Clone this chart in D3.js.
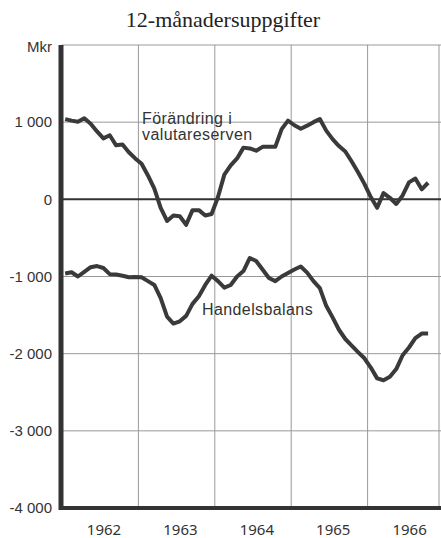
<!DOCTYPE html>
<html>
<head>
<meta charset="utf-8">
<script src="https://cdn.jsdelivr.net/npm/d3@7"></script>
<style>
  body { margin: 0; background: #fff; }
  svg { display: block; }
</style>
</head>
<body>
<svg id="chart"></svg>
<script>
// 12-month figures, monthly from Jan 1962, Mkr
var startYear = 1962;
var years = [1962, 1963, 1964, 1965, 1966];
var yTicks = [1000, 0, -1000, -2000, -3000, -4000];

var valutareserven = [
  1040, 1020, 1005, 1050, 980, 880, 790, 830, 700, 710, 610, 530,
  460, 310, 140, -110, -280, -210, -220, -330, -140, -140, -210, -190,
  30, 320, 440, 530, 670, 660, 630, 680, 680, 680, 910, 1020,
  960, 915, 955, 1000, 1040, 890, 780, 690, 620, 490, 350, 200,
  30, -110, 80, 20, -60, 50, 220, 270, 130, 215
];

var handelsbalans = [
  -960, -945, -1000, -940, -880, -865, -890, -970, -975, -990, -1010, -1005,
  -1010, -1060, -1110, -1280, -1520, -1610, -1580, -1510, -1355, -1255, -1110, -990,
  -1060, -1145, -1110, -1000, -930, -760, -800, -910, -1020, -1060, -1000, -955,
  -910, -870, -950, -1060, -1150, -1380, -1530, -1690, -1810, -1895, -1980, -2060,
  -2180, -2320, -2345, -2300, -2200, -2020, -1920, -1800, -1740, -1740
];

var W = 441, H = 538;
var svg = d3.select("#chart").attr("width", W).attr("height", H);

var x = d3.scaleLinear().domain([1962, 1967]).range([62, 444]);
var y = d3.scaleLinear().domain([-4000, 2000]).range([508, 45]);

function monthX(i) { return x(startYear + (i + 0.5) / 12); }

// title
svg.append("text")
  .attr("x", 223).attr("y", 27)
  .attr("text-anchor", "middle")
  .style("font-family", "'Liberation Serif', serif")
  .style("font-size", "22px")
  .attr("fill", "#222")
  .text("12-månadersuppgifter");

// grid
var grid = svg.append("g").attr("stroke", "#999").attr("stroke-width", 1);
grid.selectAll("line.h").data([2000, 1000, -1000, -2000, -3000]).enter().append("line")
  .attr("x1", 62).attr("x2", W).attr("y1", d => y(d)).attr("y2", d => y(d));
grid.selectAll("line.v").data([1963, 1964, 1965, 1966]).enter().append("line")
  .attr("x1", d => x(d)).attr("x2", d => x(d)).attr("y1", y(2000)).attr("y2", y(-4000));
grid.append("line").attr("x1", W - 2).attr("x2", W - 2).attr("y1", y(2000)).attr("y2", y(-4000));

// zero line
svg.append("line").attr("x1", 62).attr("x2", W).attr("y1", y(0)).attr("y2", y(0))
  .attr("stroke", "#333").attr("stroke-width", 2);

// y axis labels
var yAxis = d3.axisLeft(y).tickValues(yTicks).tickSize(0).tickPadding(9)
  .tickFormat(d => d3.format(",")(d).replace(",", " ").replace("−", "-"));
var ya = svg.append("g").attr("transform", "translate(61,0)").call(yAxis);
ya.select(".domain").remove();
ya.selectAll("text")
  .style("font-family", "'Liberation Sans', Arial, sans-serif")
  .style("font-size", "15px").attr("fill", "#333");

svg.append("text").attr("x", 52).attr("y", 52).attr("text-anchor", "end")
  .style("font-family", "'Liberation Sans', Arial, sans-serif")
  .style("font-size", "15px").attr("fill", "#333").text("Mkr");

// x axis labels
svg.selectAll("text.year").data(years).enter().append("text")
  .attr("class", "year")
  .attr("x", d => x(d + 0.55)).attr("y", 535)
  .attr("text-anchor", "middle")
  .style("font-family", "'Noto Sans', sans-serif")
  .style("font-size", "15px").attr("fill", "#333")
  .text(d => d);

// lines
var line = d3.line().x((d, i) => monthX(i)).y(d => y(d));
[valutareserven, handelsbalans].forEach(function(s) {
  svg.append("path").datum(s).attr("d", line)
    .attr("fill", "none").attr("stroke", "#3a3a3a")
    .attr("stroke-width", 4).attr("stroke-linejoin", "round");
});

// axis frame
svg.append("line").attr("x1", 61).attr("x2", 61).attr("y1", y(2000)).attr("y2", y(-4000) + 2)
  .attr("stroke", "#333").attr("stroke-width", 5);
svg.append("line").attr("x1", 59).attr("x2", W).attr("y1", y(-4000)).attr("y2", y(-4000))
  .attr("stroke", "#333").attr("stroke-width", 4);

// series labels
var lab = svg.append("g")
  .style("font-family", "'Liberation Sans', Arial, sans-serif")
  .style("font-size", "16px").style("letter-spacing", "0.4px").attr("fill", "#333");
lab.append("text").attr("x", 142).attr("y", 124).text("Förändring i");
lab.append("text").attr("x", 142).attr("y", 140).text("valutareserven");
lab.append("text").attr("x", 202).attr("y", 315).text("Handelsbalans");
</script>
</body>
</html>
